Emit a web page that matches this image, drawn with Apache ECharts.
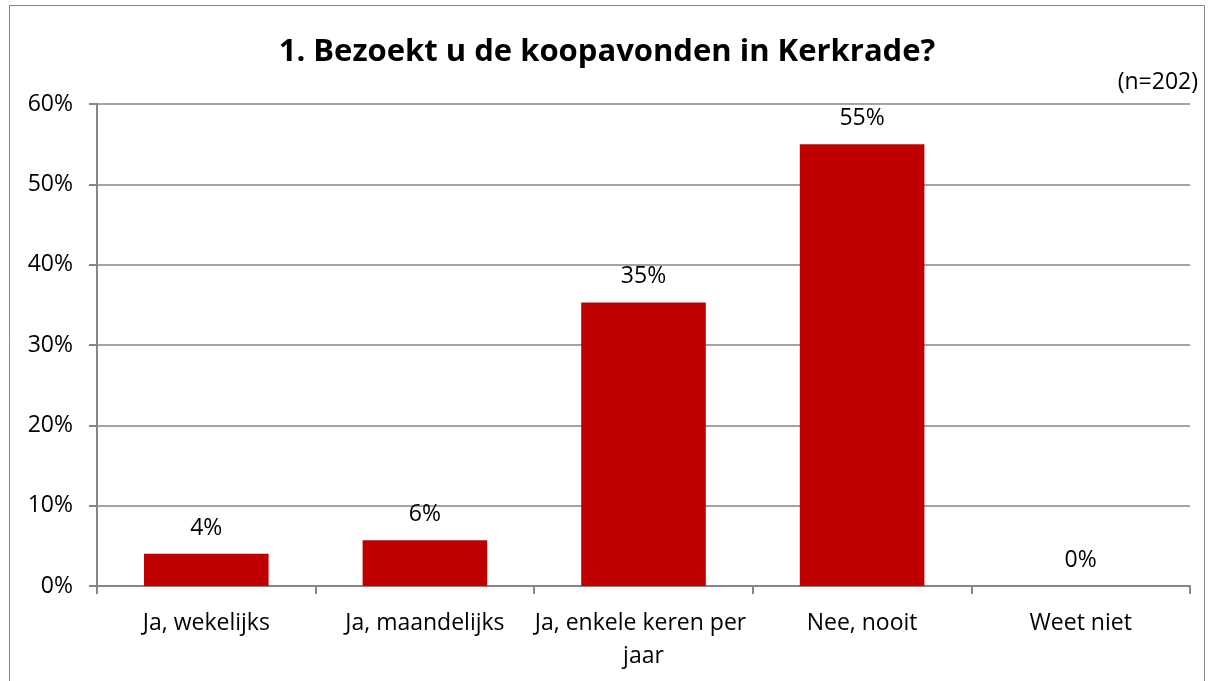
<!DOCTYPE html>
<html>
<head>
<meta charset="utf-8">
<script src="https://cdn.jsdelivr.net/npm/echarts@6/dist/echarts.min.js"></script>
<style>
  html, body { margin: 0; padding: 0; background: #fff; }
  #chart { width: 1214px; height: 681px; }
</style>
</head>
<body>
<div id="chart"></div>
<script>
// antwoorden en percentages
var categories = ['Ja, wekelijks', 'Ja, maandelijks', 'Ja, enkele keren per jaar', 'Nee, nooit', 'Weet niet'];
var percentages = [4.0, 5.7, 35.3, 55.0, 0];
var yTicks = [0, 10, 20, 30, 40, 50, 60];

var font = '"Open Sans", "Noto Sans", sans-serif';
var chart = echarts.init(document.getElementById('chart'));

var option = {
  animation: false,
  backgroundColor: '#fff',
  textStyle: { fontFamily: font },
  graphic: [{
    type: 'rect',
    shape: { x: 9.5, y: 5.5, width: 1195, height: 700 },
    style: { fill: 'none', stroke: '#868686', lineWidth: 1 },
    silent: true
  }, {
    type: 'text',
    right: 16, top: 71,
    style: { text: '(n=202)', fontSize: 23, fill: '#000', fontFamily: font }
  }],
  title: {
    text: '1. Bezoekt u de koopavonden in Kerkrade?',
    left: 'center', top: 32,
    textStyle: { fontSize: 31, fontWeight: 'bold', color: '#000', fontFamily: font }
  },
  grid: { left: 97, right: 24, top: 104, bottom: 95, containLabel: false },
  xAxis: {
    type: 'category',
    data: categories,
    axisLine: { lineStyle: { color: '#868686', width: 2 } },
    axisTick: { show: true, length: 8, lineStyle: { color: '#868686', width: 2 } },
    axisLabel: {
      interval: 0,
      color: '#000', fontSize: 23, margin: 21, lineHeight: 33,
      width: 225, overflow: 'break', fontFamily: font
    }
  },
  yAxis: {
    type: 'value',
    min: yTicks[0], max: yTicks[yTicks.length - 1], interval: 10,
    axisLine: { show: true, lineStyle: { color: '#868686', width: 2 } },
    axisTick: { show: true, length: 8, lineStyle: { color: '#868686', width: 2 } },
    splitLine: { lineStyle: { color: '#868686', width: 1.5 } },
    axisLabel: { color: '#000', fontSize: 23, margin: 24, formatter: '{value}%', fontFamily: font }
  },
  series: [{
    type: 'bar',
    data: percentages,
    barWidth: '57%',
    itemStyle: { color: '#C00000' },
    label: {
      show: true, position: 'top', distance: 14,
      color: '#000', fontSize: 23, fontFamily: font,
      formatter: function (p) { return Math.round(p.value) + '%'; }
    }
  }]
};
chart.setOption(option);
</script>
</body>
</html>
